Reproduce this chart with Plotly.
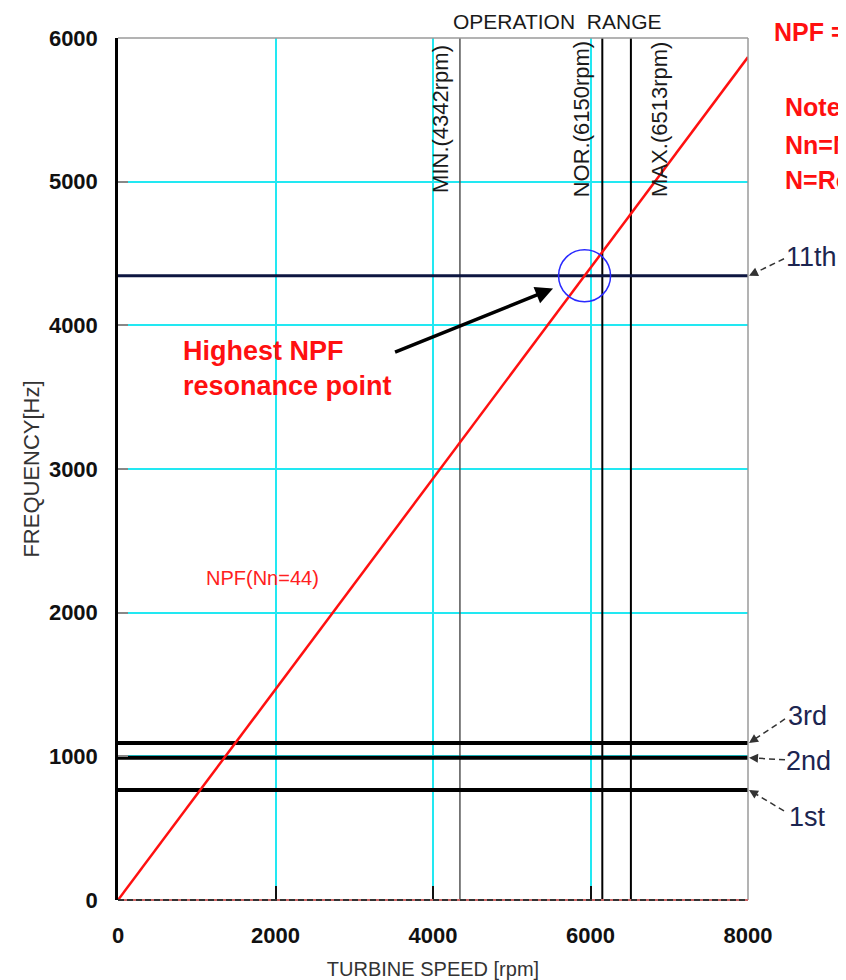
import plotly.graph_objects as go

# ---------------- data ----------------
npf_speed = [0, 8000]          # rpm
npf_freq = [0, 5867]           # Hz  (NPF line, Nn = 44)
npf_label = "NPF(Nn=44)"

mode_names = ["1st", "2nd", "3rd", "11th"]
mode_freq = [766, 990, 1093, 4345]     # Hz

op_names = ["MIN.(4342rpm)", "NOR.(6150rpm)", "MAX.(6513rpm)"]
op_speed = [4342, 6150, 6513]          # rpm

x_ticks = [0, 2000, 4000, 6000, 8000]
y_ticks = [0, 1000, 2000, 3000, 4000, 5000, 6000]
x_range = [0, 8000]
y_range = [0, 6000]

note_lines = ["NPF = Nn\u00d7N/60", "Note:", "Nn=Number of nozzles", "N=Rotational speed"]

# ---------------- layout geometry ----------------
# page has an 8px body margin, so the figure is placed at (8, 8)
OFF = 8
W, H = 838, 972
ML, MR, MT, MB = 110, 98, 30, 80
PW, PH = W - ML - MR, H - MT - MB


def paper_x(px):  # px = screen pixel
    return (px - OFF - ML) / PW


def paper_y(py):
    return (OFF + H - MB - py) / PH


def yfrac(v):
    return (v - y_range[0]) / (y_range[1] - y_range[0])


fig = go.Figure()

# operation-range vertical lines
op_style = [dict(color="#555555", width=1.5), dict(color="#000000", width=2), dict(color="#000000", width=2)]
for name, sp, st in zip(op_names, op_speed, op_style):
    fig.add_trace(go.Scatter(x=[sp, sp], y=y_range, mode="lines", line=st,
                             hoverinfo="skip", showlegend=False))

# natural-frequency horizontal lines
for name, f in zip(mode_names, mode_freq):
    st = dict(color="#0d1640", width=3) if name == "11th" else dict(color="#000000", width=4)
    fig.add_trace(go.Scatter(x=x_range, y=[f, f], mode="lines", line=st,
                             hoverinfo="skip", showlegend=False))

# NPF line
fig.add_trace(go.Scatter(x=npf_speed, y=npf_freq, mode="lines",
                         line=dict(color="#ff1010", width=2.5),
                         hoverinfo="skip", showlegend=False, name=npf_label))

shapes = []
annotations = []

# frame: top and right grey, bottom dashed (black / red)
shapes.append(dict(type="line", xref="paper", yref="paper", x0=0, x1=1, y0=1, y1=1,
                   line=dict(color="#9a9a9a", width=1.5)))
shapes.append(dict(type="line", xref="paper", yref="paper", x0=1, x1=1, y0=0, y1=1,
                   line=dict(color="#9a9a9a", width=1.5)))
shapes.append(dict(type="line", xref="paper", yref="paper", x0=0, x1=1, y0=0, y1=0,
                   line=dict(color="#cc6666", width=2)))
shapes.append(dict(type="line", xref="paper", yref="paper", x0=0, x1=1, y0=0, y1=0,
                   line=dict(color="#333333", width=2, dash="6px,3px")))

# resonance circle at intersection of NPF with the 11th mode
f11 = mode_freq[mode_names.index("11th")]
slope = (npf_freq[1] - npf_freq[0]) / (npf_speed[1] - npf_speed[0])
x_res = f11 / slope
shapes.append(dict(type="circle", xref="x", yref="y", xsizemode="pixel", ysizemode="pixel",
                   xanchor=x_res, yanchor=f11, x0=-26, x1=26, y0=-26, y1=26,
                   line=dict(color="#2a2aff", width=1.5)))

# Mode labels with dashed arrows (offsets in pixels from arrow tip, screen dy downward)
label_geom = {
    "11th": dict(tail=(35, -17), text=(37, -19)),
    "3rd": dict(tail=(36, -24), text=(39, -27)),
    "2nd": dict(tail=(36, 2), text=(37, 3)),
    "1st": dict(tail=(35, 21), text=(40, 27)),
}
for name, f in zip(mode_names, mode_freq):
    g = label_geom[name]
    tip_px_y = OFF + MT + (1 - yfrac(f)) * PH
    tip_px_x = OFF + ML + PW + 1
    tx, ty = g["tail"]
    n = (tx * tx + ty * ty) ** 0.5
    shapes.append(dict(type="line", xref="paper", yref="paper",
                       x0=paper_x(tip_px_x + tx), y0=paper_y(tip_px_y + ty),
                       x1=paper_x(tip_px_x + 6 * tx / n), y1=paper_y(tip_px_y + 6 * ty / n),
                       line=dict(color="#333333", width=1.5, dash="6px,4px")))
    annotations.append(dict(xref="paper", yref="paper", x=paper_x(tip_px_x), y=yfrac(f),
                            text="", showarrow=True, arrowhead=2, arrowsize=1.2,
                            arrowwidth=1.5, arrowcolor="#333333",
                            ax=9 * tx / n, ay=9 * ty / n))
    annotations.append(dict(xref="paper", yref="paper",
                            x=paper_x(tip_px_x + g["text"][0] - 2), y=paper_y(tip_px_y + g["text"][1]),
                            xanchor="left", yanchor="middle", showarrow=False, text=name,
                            font=dict(family="Arial", size=27, color="#1c2550")))

# operation labels (vertical)
op_shift = [-19, -20, 29]
for name, sp, sh in zip(op_names, op_speed, op_shift):
    annotations.append(dict(xref="x", yref="paper", x=sp, y=paper_y(119), xshift=sh,
                            textangle=-90, showarrow=False, text=name,
                            xanchor="center", yanchor="middle",
                            font=dict(family="Arial", size=22, color="#1a1a1a")))

annotations.append(dict(xref="paper", yref="paper", x=paper_x(557), y=paper_y(21),
                        xanchor="center", yanchor="middle",
                        showarrow=False, text="OPERATION\u00a0\u00a0RANGE",
                        font=dict(family="Arial", size=21, color="#1a1a1a")))

# NPF label
annotations.append(dict(xref="paper", yref="paper", x=paper_x(262), y=paper_y(578),
                        xanchor="center", yanchor="middle",
                        showarrow=False, text=npf_label,
                        font=dict(family="Arial", size=20, color="#ff2020")))

# Highest NPF resonance point
annotations.append(dict(xref="paper", yref="paper", x=paper_x(181), y=paper_y(368),
                        xanchor="left", yanchor="middle", align="left", showarrow=False,
                        text="<b>Highest NPF<br>resonance point</b>",
                        font=dict(family="Arial", size=27, color="#ff1010")))
annotations.append(dict(xref="x", yref="y", x=x_res, y=f11,
                        ax=-191, ay=77, text="", showarrow=True, arrowhead=2,
                        arrowsize=1, arrowwidth=3.5, arrowcolor="#000000", standoff=34))

# Note text on the right (clipped by page edge, as in the reference)
note_y = [32, 107, 145, 180]
note_x = [772, 783, 783, 783]
for t, px, py in zip(note_lines, note_x, note_y):
    annotations.append(dict(xref="paper", yref="paper", x=paper_x(px), y=paper_y(py),
                            xanchor="left", yanchor="middle", showarrow=False,
                            text="<b>" + t + "</b>",
                            font=dict(family="Arial", size=25, color="#ff1010")))

fig.update_layout(
    width=W, height=H,
    margin=dict(l=ML, r=MR, t=MT, b=MB, autoexpand=False),
    paper_bgcolor="white", plot_bgcolor="white",
    showlegend=False,
    shapes=shapes, annotations=annotations,
    font=dict(family="Arial"),
)
fig.update_xaxes(range=x_range, tickvals=x_ticks, ticktext=[str(v) for v in x_ticks],
                 showgrid=True, gridcolor="#22e8f2", gridwidth=1.5,
                 zeroline=False, showline=False,
                 ticks="inside", ticklen=14, tickwidth=1.5, tickcolor="#111111",
                 ticklabelstandoff=20,
                 tickfont=dict(family="Arial", size=22, color="#111111", weight="bold"),
                 title=dict(text="TURBINE SPEED [rpm]", standoff=14,
                            font=dict(family="Arial", size=20, color="#333333")))
fig.update_yaxes(range=y_range, tickvals=y_ticks, ticktext=[str(v) for v in y_ticks],
                 showgrid=True, gridcolor="#22e8f2", gridwidth=1.5,
                 zeroline=False, showline=True, linecolor="#000000", linewidth=2.5,
                 ticks="inside", ticklen=10, tickwidth=1.5, tickcolor="#888888",
                 ticklabelstandoff=13,
                 tickfont=dict(family="Arial", size=22, color="#111111", weight="bold"),
                 title=dict(text="FREQUENCY[Hz]", standoff=4,
                            font=dict(family="Arial", size=22, color="#333333")))

fig.write_html("out.html")
